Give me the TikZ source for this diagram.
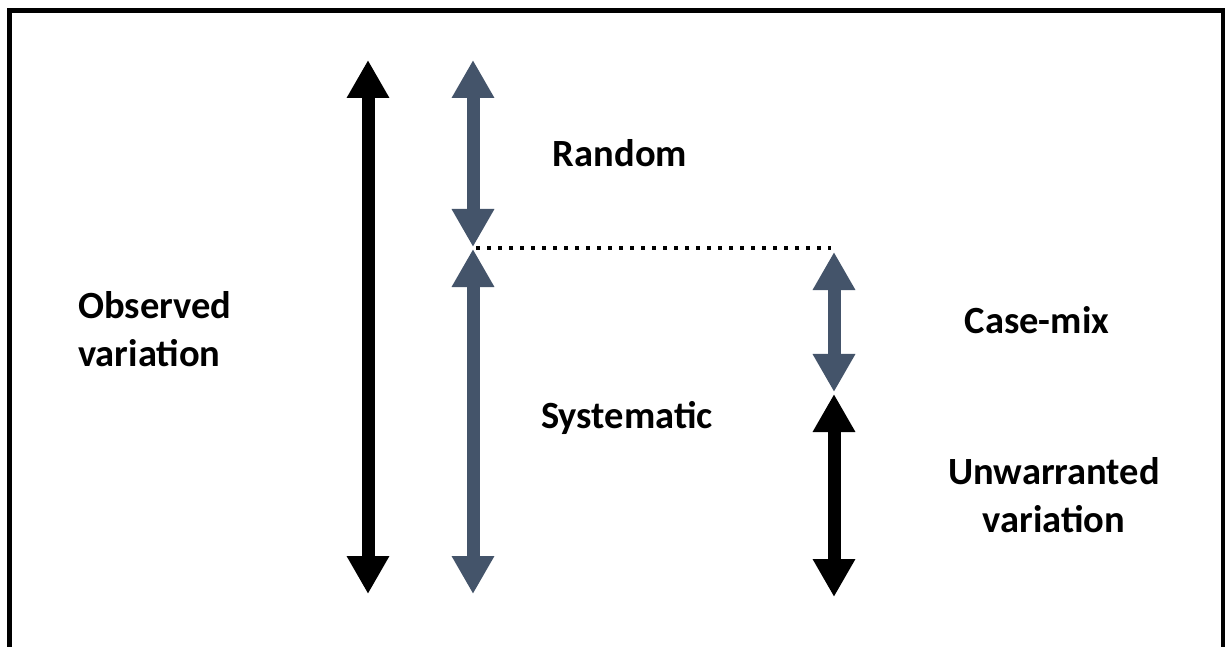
\documentclass[tikz,border=0pt]{standalone}
\usepackage{fontspec}
\setmainfont{Carlito}
\usetikzlibrary{arrows.meta}
\definecolor{slate}{HTML}{44546A}
\tikzset{
  label text/.style={font=\bfseries\fontsize{38.5bp}{48bp}\selectfont, inner sep=0pt, text=black},
  bigarrow/.style={line width=13bp, {Triangle[width=40bp,length=38bp]}-{Triangle[width=40bp,length=38bp]}},
  frame line/.style={line width=5.5bp, line join=miter},
  level line/.style={line width=3.5bp, dash pattern=on 3.5bp off 7.5bp},
}
\begin{document}
\begin{tikzpicture}[x=1bp, y=-1bp]
  \useasboundingbox (0,0) rectangle (1225,647);
  \fill[white] (0,0) rectangle (1225,647);

  % outer frame (open at the lower edge)
  \draw[frame line] (9.5,660) -- (9.5,10.5) -- (1223.5,10.5) -- (1223.5,660);

  % arrow end points
  \coordinate (obsTop) at (368,60);
  \coordinate (obsBot) at (368,594);
  \coordinate (rndTop) at (473,60);
  \coordinate (rndBot) at (473,247);
  \coordinate (sysTop) at (473,249);
  \coordinate (sysBot) at (473,594);
  \coordinate (cmTop)  at (834,252);
  \coordinate (cmBot)  at (834,392);
  \coordinate (uwTop)  at (834,394);
  \coordinate (uwBot)  at (834,597);
  \coordinate (lvlL)   at (476,248);
  \coordinate (lvlR)   at (831,248);

  % arrows
  \draw[bigarrow, black] (obsTop) -- (obsBot);
  \draw[bigarrow, slate] (rndTop) -- (rndBot);
  \draw[bigarrow, slate] (sysTop) -- (sysBot);
  \draw[bigarrow, slate] (cmTop) -- (cmBot);
  \draw[bigarrow, black] (uwTop) -- (uwBot);

  % dotted level line
  \draw[level line] (lvlL) -- (lvlR);

  % labels (for two-line labels the base anchor sits on the last line)
  \node[label text, anchor=base west, align=left] (observed) at (78,367) {Observed\\variation};
  \node[label text, anchor=base] (random) at (620,167) {Random};
  \node[label text, anchor=base] (systematic) at (627,428) {Systematic};
  \node[label text, anchor=base] (casemix) at (1037,334) {Case-mix};
  \node[label text, anchor=base, align=center] (unwarranted) at (1054,532) {Unwarranted\\variation};
\end{tikzpicture}
\end{document}
